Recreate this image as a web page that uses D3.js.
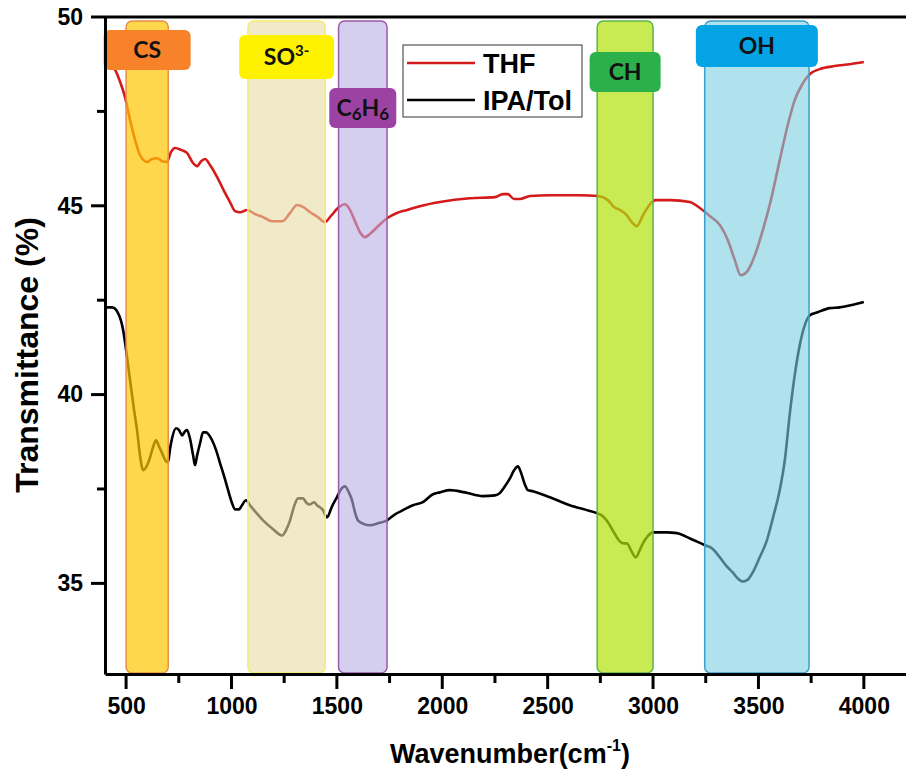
<!DOCTYPE html>
<html>
<head>
<meta charset="utf-8">
<script src="https://cdn.jsdelivr.net/npm/d3@7"></script>
<style>
  body { margin: 0; background: #fff; }
  svg { display: block; font-family: "Liberation Sans", Arial, sans-serif; }
  .tag { font-family: Lato, "Open Sans", sans-serif; font-weight: 700; }
</style>
</head>
<body>
<div id="container"></div>
<script>
// THF spectrum (wavenumber, transmittance)
const thfWave = [400, 424, 448, 472, 495, 519, 543, 566, 600, 623, 647, 671, 694, 713, 732, 761, 789, 818, 837, 856, 875, 898, 932, 965, 993, 1017, 1041, 1074, 1112, 1150, 1192, 1240, 1278, 1311, 1339, 1373, 1410, 1444, 1472, 1505, 1539, 1562, 1586, 1610, 1633, 1662, 1690, 1738, 1785, 1833, 1894, 1989, 2131, 2250, 2288, 2311, 2340, 2368, 2416, 2511, 2653, 2738, 2786, 2814, 2843, 2871, 2899, 2923, 2952, 2985, 3013, 3080, 3175, 3222, 3269, 3317, 3355, 3388, 3416, 3450, 3483, 3521, 3559, 3601, 3639, 3672, 3706, 3744, 3791, 3862, 3933, 4000]
const thfTrans = [48.78, 48.75, 48.6, 48.28, 47.88, 47.27, 46.74, 46.34, 46.16, 46.24, 46.26, 46.18, 46.16, 46.42, 46.53, 46.48, 46.4, 46.13, 46.05, 46.18, 46.24, 46.08, 45.76, 45.39, 45.1, 44.86, 44.83, 44.89, 44.78, 44.7, 44.59, 44.59, 44.81, 45.02, 44.97, 44.83, 44.7, 44.57, 44.73, 44.94, 45.04, 44.89, 44.59, 44.3, 44.17, 44.28, 44.43, 44.67, 44.81, 44.89, 44.99, 45.1, 45.2, 45.23, 45.31, 45.31, 45.18, 45.18, 45.26, 45.28, 45.28, 45.26, 45.15, 44.97, 44.89, 44.78, 44.57, 44.46, 44.75, 45.04, 45.15, 45.15, 45.1, 44.94, 44.73, 44.49, 44.09, 43.56, 43.16, 43.29, 43.69, 44.36, 45.15, 46.21, 47.14, 47.8, 48.2, 48.49, 48.62, 48.7, 48.75, 48.81]

// IPA/Tol spectrum
const ipaWave = [400, 434, 462, 486, 500, 519, 538, 552, 566, 581, 600, 614, 628, 642, 656, 671, 690, 699, 709, 718, 737, 751, 766, 780, 789, 803, 818, 827, 837, 851, 865, 879, 908, 927, 946, 965, 984, 1003, 1017, 1036, 1050, 1069, 1088, 1116, 1150, 1192, 1240, 1259, 1278, 1297, 1316, 1339, 1358, 1373, 1392, 1406, 1434, 1453, 1477, 1500, 1524, 1538, 1557, 1572, 1586, 1600, 1629, 1657, 1695, 1738, 1776, 1814, 1861, 1908, 1956, 1989, 2036, 2107, 2193, 2250, 2273, 2297, 2321, 2340, 2359, 2373, 2392, 2406, 2430, 2511, 2605, 2686, 2733, 2762, 2786, 2814, 2843, 2861, 2876, 2895, 2918, 2937, 2952, 2975, 2999, 3032, 3065, 3113, 3175, 3246, 3279, 3317, 3350, 3378, 3402, 3426, 3450, 3473, 3506, 3540, 3568, 3601, 3625, 3649, 3672, 3696, 3720, 3744, 3781, 3838, 3885, 3943, 4000]
const ipaTrans = [42.31, 42.31, 42.16, 41.71, 41.18, 40.38, 39.59, 39.06, 38.39, 38.0, 38.13, 38.34, 38.61, 38.79, 38.63, 38.45, 38.23, 38.21, 38.58, 38.84, 39.11, 39.06, 38.92, 39.03, 39.06, 38.84, 38.39, 38.13, 38.39, 38.71, 39.0, 39.0, 38.79, 38.53, 38.18, 37.84, 37.47, 37.12, 36.96, 36.96, 37.07, 37.2, 37.07, 36.88, 36.67, 36.46, 36.27, 36.41, 36.67, 37.04, 37.25, 37.25, 37.12, 37.09, 37.15, 37.07, 36.94, 36.75, 37.04, 37.28, 37.52, 37.57, 37.41, 37.2, 36.88, 36.67, 36.57, 36.54, 36.59, 36.67, 36.83, 36.94, 37.07, 37.15, 37.36, 37.41, 37.47, 37.41, 37.31, 37.33, 37.39, 37.57, 37.78, 37.99, 38.1, 37.94, 37.62, 37.47, 37.44, 37.28, 37.07, 36.94, 36.86, 36.78, 36.62, 36.35, 36.11, 36.06, 36.06, 35.88, 35.69, 35.88, 36.06, 36.25, 36.35, 36.35, 36.35, 36.33, 36.19, 36.01, 35.93, 35.69, 35.45, 35.29, 35.13, 35.05, 35.1, 35.29, 35.69, 36.14, 36.72, 37.47, 38.26, 39.51, 40.51, 41.31, 41.84, 42.1, 42.18, 42.29, 42.31, 42.37, 42.45]

// highlighted bands (cm-1)
const bandNames = ['CS', 'SO3-', 'C6H6', 'CH', 'OH']
const bandStart = [500, 1078, 1508, 2735, 3245]
const bandEnd = [700, 1445, 1738, 3000, 3740]

const xTicks = [500, 1000, 1500, 2000, 2500, 3000, 3500, 4000]
const xMinor = [750, 1250, 1750, 2250, 2750, 3250, 3750]
const yTicks = [35, 40, 45, 50]
const yMinor = [37.5, 42.5, 47.5]

const seriesNames = ['THF', 'IPA/Tol']

const width = 906
const height = 773
const mLeft = 105, mTop = 17, mBottom = 674

const svg = d3.select('#container').append('svg')
    .attr('width', width).attr('height', height)

const x = d3.scaleLinear().domain([400, 4200]).range([mLeft, width])
const y = d3.scaleLinear().domain([32.6, 50]).range([mBottom, mTop])

const line = d3.line()
    .x(d => x(d[0]))
    .y(d => y(d[1]))
    .curve(d3.curveMonotoneX)

const lineColors = ['#d41a1a', '#000']
const series = [d3.zip(thfWave, thfTrans), d3.zip(ipaWave, ipaTrans)]

svg.append('g').selectAll('path')
    .data(series)
    .enter()
    .append('path')
    .attr('d', line)
    .attr('fill', 'none')
    .attr('stroke', (d, i) => lineColors[i])
    .attr('stroke-width', 2.6)

// bands sit over the lines, semi transparent
const bandFill = ['#ffc600', '#e6dca3', '#b9afe4', '#b0e20c', '#7bcfe3']
const bandOpacity = [0.7, 0.6, 0.6, 0.7, 0.6]
const bandStroke = ['#e88f45', '#f3ee6e', '#9d5aa6', '#5cb54a', '#3a9fcb']

svg.append('g').selectAll('rect')
    .data(bandNames)
    .enter()
    .append('rect')
    .attr('x', (d, i) => x(bandStart[i]))
    .attr('y', 21)
    .attr('width', (d, i) => x(bandEnd[i]) - x(bandStart[i]))
    .attr('height', mBottom - 22)
    .attr('rx', 6)
    .attr('fill', (d, i) => bandFill[i])
    .attr('fill-opacity', (d, i) => bandOpacity[i])
    .attr('stroke', (d, i) => bandStroke[i])
    .attr('stroke-width', 1.5)

// tag boxes
const tagColor = ['#f7822a', '#fff200', '#9c42a3', '#2bb04a', '#03a3e6']
const tagW = [87, 95, 67, 71, 122]
const tagTop = [30, 35, 88, 52, 25]
const tagH = [40, 44, 40, 40, 42]

const tags = svg.append('g').selectAll('g')
    .data(bandNames)
    .enter()
    .append('g')
    .attr('transform', (d, i) => `translate(${(x(bandStart[i]) + x(bandEnd[i])) / 2},${tagTop[i]})`)

tags.append('rect')
    .attr('x', (d, i) => -tagW[i] / 2)
    .attr('width', (d, i) => tagW[i])
    .attr('height', (d, i) => tagH[i])
    .attr('rx', 6)
    .attr('fill', (d, i) => tagColor[i])

const tagText = tags.append('text')
    .attr('class', 'tag')
    .attr('y', (d, i) => tagH[i] / 2 + 8)
    .attr('text-anchor', 'middle')
    .attr('font-size', 23)
    .attr('fill', '#111')

tagText.each(function (d) {
    const t = d3.select(this)
    if (d === 'SO3-') {
        t.append('tspan').text('SO')
        t.append('tspan').text('3-').attr('font-size', 15).attr('dy', -9)
    } else if (d === 'C6H6') {
        t.append('tspan').text('C')
        t.append('tspan').text('6').attr('font-size', 17).attr('dy', 4)
        t.append('tspan').text('H').attr('dy', -4)
        t.append('tspan').text('6').attr('font-size', 17).attr('dy', 4)
    } else {
        t.text(d)
    }
})

// legend
const legend = svg.append('g').attr('transform', 'translate(403,45)')
legend.append('rect')
    .attr('width', 179).attr('height', 72)
    .attr('fill', '#fff').attr('stroke', '#333').attr('stroke-width', 1)

const legendItem = legend.selectAll('g.item')
    .data(seriesNames)
    .enter()
    .append('g')
    .attr('class', 'item')
    .attr('transform', (d, i) => `translate(0,${18 + i * 37})`)

legendItem.append('line')
    .attr('x1', 4).attr('x2', 72)
    .attr('stroke', (d, i) => lineColors[i])
    .attr('stroke-width', 2.6)

legendItem.append('text')
    .attr('x', 80).attr('y', 10)
    .attr('font-size', 27).attr('font-weight', 700)
    .text(d => d)

// axes: labels + domain from d3, tick marks drawn as plain lines
const xAxis = d3.axisBottom(x).tickValues(xTicks).tickSize(0).tickPadding(24)
    .tickFormat(d3.format('d'))
const yAxis = d3.axisLeft(y).tickValues(yTicks).tickSize(0).tickPadding(22)

const axisG = svg.append('g')
axisG.append('g').attr('transform', `translate(0,${mBottom})`).call(xAxis)
axisG.append('g').attr('transform', `translate(${mLeft},0)`).call(yAxis)

axisG.selectAll('.domain').attr('stroke-width', 3).attr('stroke', '#000')
axisG.selectAll('.tick text')
    .attr('font-size', 23).attr('font-weight', 700)
    .attr('font-family', '"Liberation Sans", Arial, sans-serif')
    .attr('fill', '#000')

const xMarks = xTicks.map(v => [v, 15]).concat(xMinor.map(v => [v, 9]))
axisG.append('g').selectAll('line')
    .data(xMarks)
    .enter()
    .append('line')
    .attr('x1', d => x(d[0])).attr('x2', d => x(d[0]))
    .attr('y1', mBottom).attr('y2', d => mBottom + d[1])
    .attr('stroke', '#000').attr('stroke-width', 3)

const yMarks = yTicks.map(v => [v, 14]).concat(yMinor.map(v => [v, 8]))
axisG.append('g').selectAll('line')
    .data(yMarks)
    .enter()
    .append('line')
    .attr('x1', mLeft).attr('x2', d => mLeft - d[1])
    .attr('y1', d => y(d[0])).attr('y2', d => y(d[0]))
    .attr('stroke', '#000').attr('stroke-width', 3)

// top frame line
svg.append('line')
    .attr('x1', mLeft).attr('x2', width)
    .attr('y1', mTop).attr('y2', mTop)
    .attr('stroke', '#000').attr('stroke-width', 3)

// axis titles
const xt = svg.append('text')
    .attr('x', 510).attr('y', 763)
    .attr('text-anchor', 'middle')
    .attr('font-size', 27).attr('font-weight', 700)
xt.append('tspan').text('Wavenumber(cm')
xt.append('tspan').text('-1').attr('font-size', 16).attr('dy', -12)
xt.append('tspan').text(')').attr('dy', 12)

svg.append('text')
    .attr('transform', 'translate(38,355) rotate(-90)')
    .attr('text-anchor', 'middle')
    .attr('font-size', 32).attr('font-weight', 700)
    .text('Transmittance (%)')
</script>
</body>
</html>
